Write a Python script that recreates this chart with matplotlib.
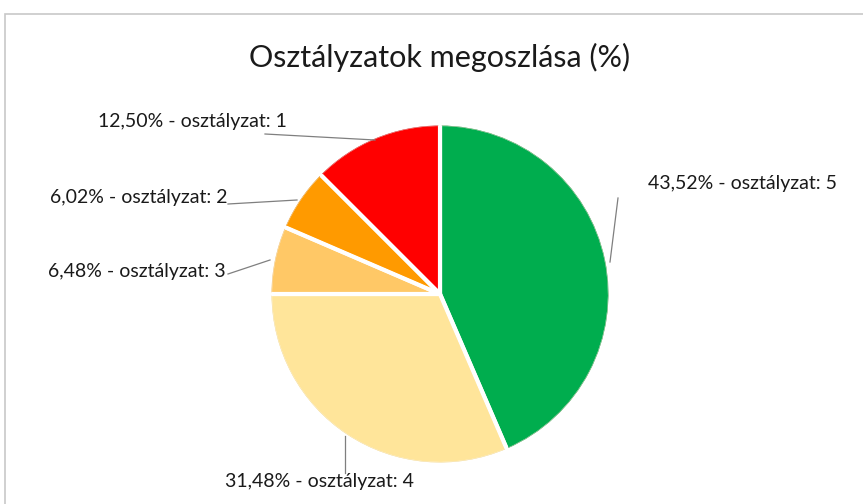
import matplotlib
matplotlib.use("Agg")
import matplotlib.pyplot as plt
from matplotlib.patches import Rectangle

plt.rcParams['font.family'] = ['Lato', 'DejaVu Sans']

title = "Osztályzatok megoszlása (%)"
grades = ["5", "4", "3", "2", "1"]
shares = [43.52, 31.48, 6.48, 6.02, 12.50]
colors = ["#00AD4E", "#FFE59A", "#FFC866", "#FF9A00", "#FF0000"]
edges = ["#1F8A2E", "#F2D27A", "#EDB24F", "#E08400", "#D00000"]

W, H = 863, 504
fig = plt.figure(figsize=(W / 100, H / 100), dpi=100)
ax = fig.add_axes([0, 0, 1, 1])

# chart frame
ax.add_patch(Rectangle((5, -5), W, H - 14 + 5, fill=False, edgecolor="#C8C8C8", lw=1.2))

cx, cy, r = 440, H - 294, 170
w1, _ = ax.pie(shares, colors=colors, startangle=90, counterclock=False,
               center=(cx, cy), radius=r, frame=True,
               wedgeprops=dict(edgecolor="white", linewidth=3.0))
w2, _ = ax.pie(shares, colors=colors, startangle=90, counterclock=False,
               center=(cx, cy), radius=r - 1.2, frame=True,
               wedgeprops=dict(linewidth=1.0, fill=False))
for w, e in zip(w2, edges):
    w.set_edgecolor(e)
w3, _ = ax.pie(shares, startangle=90, counterclock=False,
               center=(cx, cy), radius=r, frame=True,
               wedgeprops=dict(edgecolor="white", linewidth=2.2, fill=False))
ax.set_xlim(0, W)
ax.set_ylim(0, H)
ax.set_aspect('auto')
ax.axis('off')

ax.text(440, H - 57, title, ha='center', va='center', fontsize=22, color="#1A1A1A")

labels = [f"{s:.2f}".replace('.', ',') + f"% - osztályzat: {g}" for s, g in zip(shares, grades)]
# label anchor (pixel coords), leader line (pixel coords)
lab_pos = [(648, 184, 'left'), (319, 482, 'center'), (226, 272, 'right'),
           (227, 198, 'right'), (287, 122, 'right')]
leaders = [[(618, 198), (610, 262)],
           [(345, 473), (345, 436)],
           [(228, 274), (270, 260)],
           [(228, 204), (297, 200)],
           [(265, 134), (375, 140)]]
for lab, (x, y, ha), ln in zip(labels, lab_pos, leaders):
    ax.text(x, H - y, lab, ha=ha, va='center', fontsize=14, color="#1A1A1A")
    ax.plot([p[0] for p in ln], [H - p[1] for p in ln], color="#7F7F7F", lw=0.9)

fig.savefig("out.png", dpi=100)
